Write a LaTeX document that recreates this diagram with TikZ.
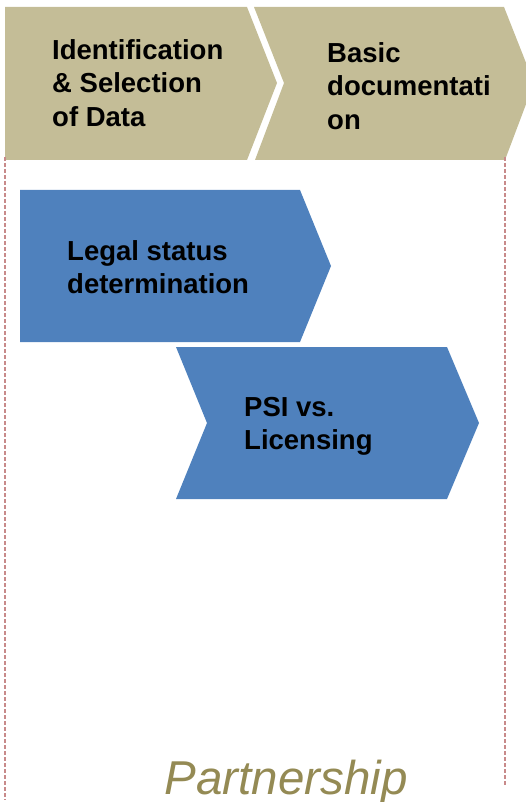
\documentclass[tikz,border=0pt]{standalone}
\usepackage{fontspec}
\setmainfont{Liberation Sans}
\definecolor{tan}{HTML}{C4BD97}
\definecolor{stepblue}{HTML}{4F81BD}
\definecolor{olive}{HTML}{948A54}
\definecolor{dashred}{HTML}{C88A8A}
\begin{document}
\begin{tikzpicture}[x=1pt,y=-1pt,
  phase/.style={fill=tan,draw=none},
  stepshape/.style={fill=stepblue,draw=none},
  label/.style={inner sep=0pt,align=left,anchor=north west,font=\fontsize{27.5}{33.5}\selectfont\bfseries,text=black},
  guide/.style={draw=dashred,line width=1.6pt,dash pattern=on 4pt off 2pt}]
\useasboundingbox (0,0) rectangle (526,802);
\begin{scope}
\clip (0,0) rectangle (526,802);
% phase chevrons
\path[phase] (5,7) -- (247,7) -- (277,83) -- (247,160) -- (5,160) -- cycle;
\path[phase] (254,7) -- (504,7) -- (534,83) -- (505,160) -- (255,160) -- (284,83) -- cycle;
\end{scope}
% blue steps
\path[stepshape] (20,190) -- (300,190) -- (331,266) -- (300,342) -- (20,342) -- cycle;
\path[stepshape] (176,347) -- (447,347) -- (479,423) -- (447,499) -- (176,499) -- (207,423) -- cycle;
% guides
\coordinate (gl1) at (5,157);
\coordinate (gl2) at (5,800);
\coordinate (gr1) at (505,157);
\coordinate (gr2) at (505,785);
\draw[guide] (gl1) -- (gl2);
\draw[guide] (gr1) -- (gr2);
% texts
\node[label] (t1) at (52,39) {Identification\\\& Selection\\of Data};
\node[label] (t2) at (327,42) {Basic\\documentati\\on};
\node[label] (t3) at (67,240) {Legal status\\determination};
\node[label] (t4) at (244,397) {PSI vs.\\Licensing};
\node[inner sep=0pt,anchor=base,font=\fontsize{47.5}{50}\selectfont\itshape,text=olive] (p) at (286,794) {Partnership};
\end{tikzpicture}
\end{document}
